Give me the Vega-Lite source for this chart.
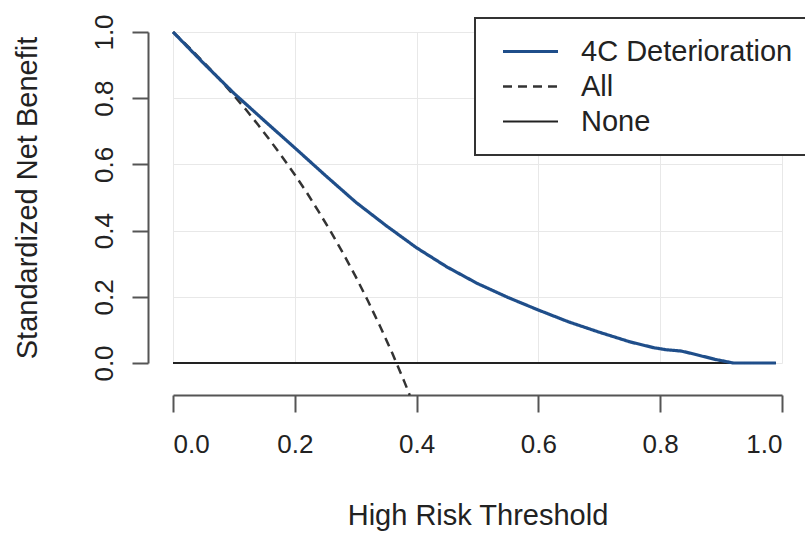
{
  "$schema": "https://vega.github.io/schema/vega-lite/v6.json",
  "width": 609,
  "height": 331,
  "autosize": "none",
  "padding": {"left": 173, "top": 32, "right": 23, "bottom": 173},
  "background": "white",
  "config": {
    "view": {"stroke": null},
    "font": "Liberation Sans",
    "axis": {
      "grid": true,
      "gridColor": "#e8e8e8",
      "gridWidth": 1,
      "domainColor": "#555555",
      "domainWidth": 2,
      "tickColor": "#555555",
      "tickWidth": 2,
      "labelFont": "Liberation Sans",
      "labelFontSize": 26,
      "labelColor": "#222222",
      "titleFont": "Liberation Sans",
      "titleFontSize": 29,
      "titleFontWeight": "normal",
      "titleColor": "#222222"
    }
  },
  "datasets": {
    "curves": [
      {"series": "None", "threshold": 0.0, "value": 0.0},
      {"series": "None", "threshold": 0.99, "value": 0.0},
      {"series": "All", "threshold": 0.0, "value": 1.0},
      {"series": "All", "threshold": 0.02, "value": 0.965},
      {"series": "All", "threshold": 0.04, "value": 0.928},
      {"series": "All", "threshold": 0.06, "value": 0.89},
      {"series": "All", "threshold": 0.08, "value": 0.85},
      {"series": "All", "threshold": 0.10, "value": 0.808},
      {"series": "All", "threshold": 0.12, "value": 0.765},
      {"series": "All", "threshold": 0.14, "value": 0.719},
      {"series": "All", "threshold": 0.16, "value": 0.671},
      {"series": "All", "threshold": 0.18, "value": 0.621},
      {"series": "All", "threshold": 0.20, "value": 0.569},
      {"series": "All", "threshold": 0.22, "value": 0.514},
      {"series": "All", "threshold": 0.24, "value": 0.455},
      {"series": "All", "threshold": 0.26, "value": 0.394},
      {"series": "All", "threshold": 0.28, "value": 0.329},
      {"series": "All", "threshold": 0.30, "value": 0.261},
      {"series": "All", "threshold": 0.32, "value": 0.188},
      {"series": "All", "threshold": 0.34, "value": 0.111},
      {"series": "All", "threshold": 0.36, "value": 0.03},
      {"series": "All", "threshold": 0.38, "value": -0.057},
      {"series": "All", "threshold": 0.3887, "value": -0.097},
      {"series": "4C Deterioration", "threshold": 0.0, "value": 1.0},
      {"series": "4C Deterioration", "threshold": 0.05, "value": 0.906},
      {"series": "4C Deterioration", "threshold": 0.10, "value": 0.815},
      {"series": "4C Deterioration", "threshold": 0.15, "value": 0.732},
      {"series": "4C Deterioration", "threshold": 0.20, "value": 0.65},
      {"series": "4C Deterioration", "threshold": 0.25, "value": 0.567},
      {"series": "4C Deterioration", "threshold": 0.30, "value": 0.486},
      {"series": "4C Deterioration", "threshold": 0.35, "value": 0.415},
      {"series": "4C Deterioration", "threshold": 0.40, "value": 0.348},
      {"series": "4C Deterioration", "threshold": 0.45, "value": 0.29},
      {"series": "4C Deterioration", "threshold": 0.50, "value": 0.24},
      {"series": "4C Deterioration", "threshold": 0.55, "value": 0.198},
      {"series": "4C Deterioration", "threshold": 0.60, "value": 0.16},
      {"series": "4C Deterioration", "threshold": 0.65, "value": 0.124},
      {"series": "4C Deterioration", "threshold": 0.70, "value": 0.093},
      {"series": "4C Deterioration", "threshold": 0.75, "value": 0.064},
      {"series": "4C Deterioration", "threshold": 0.79, "value": 0.046},
      {"series": "4C Deterioration", "threshold": 0.81, "value": 0.04},
      {"series": "4C Deterioration", "threshold": 0.835, "value": 0.036},
      {"series": "4C Deterioration", "threshold": 0.86, "value": 0.025},
      {"series": "4C Deterioration", "threshold": 0.89, "value": 0.011},
      {"series": "4C Deterioration", "threshold": 0.92, "value": 0.0},
      {"series": "4C Deterioration", "threshold": 0.99, "value": 0.0}
    ]
  },
  "data": {"name": "curves"},
  "encoding": {
    "x": {
      "field": "threshold",
      "type": "quantitative",
      "scale": {"domain": [0, 1], "nice": false, "zero": false},
      "axis": {
        "title": "High Risk Threshold",
        "values": [0, 0.2, 0.4, 0.6, 0.8, 1.0],
        "format": ".1f",
        "offset": 32,
        "tickSize": 17,
        "labelPadding": 19,
        "titlePadding": 44
      }
    },
    "y": {
      "field": "value",
      "type": "quantitative",
      "scale": {"domain": [0, 1], "nice": false, "zero": false, "clamp": false},
      "axis": {
        "title": "Standardized Net Benefit",
        "values": [0, 0.2, 0.4, 0.6, 0.8, 1.0],
        "format": ".1f",
        "offset": 25,
        "tickSize": 16,
        "labelAngle": 270,
        "labelPadding": 15,
        "titlePadding": 49
      }
    },
    "color": {
      "field": "series",
      "type": "nominal",
      "scale": {"domain": ["4C Deterioration", "All", "None"], "range": ["#1f4e8a", "#333333", "#222222"]},
      "legend": {
        "title": null,
        "orient": "none",
        "legendX": 302,
        "legendY": -14,
        "padding": 16,
        "symbolOffset": 10,
        "symbolType": "stroke",
        "symbolSize": 3025,
        "clipHeight": 35,
        "rowPadding": 0,
        "labelOffset": 21,
        "labelFontSize": 29,
        "labelFont": "Liberation Sans",
        "labelColor": "#222222",
        "labelLimit": 400,
        "strokeColor": "#333333",
        "fillColor": "white",
        "encode": {"legend": {"update": {"strokeWidth": {"value": 2}}}}
      }
    },
    "strokeDash": {
      "field": "series",
      "type": "nominal",
      "scale": {"domain": ["4C Deterioration", "All", "None"], "range": [[1, 0], [9, 6], [1, 0]]},
      "legend": null
    },
    "strokeWidth": {
      "field": "series",
      "type": "nominal",
      "scale": {"domain": ["4C Deterioration", "All", "None"], "range": [3.2, 1.8, 2]},
      "legend": null
    },
    "order": {"field": "threshold", "type": "quantitative"}
  },
  "layer": [
    {
      "transform": [{"filter": "datum.series !== '4C Deterioration'"}],
      "mark": {"type": "line", "clip": false}
    },
    {
      "transform": [{"filter": "datum.series === '4C Deterioration'"}],
      "mark": {"type": "line", "clip": false}
    }
  ]
}
